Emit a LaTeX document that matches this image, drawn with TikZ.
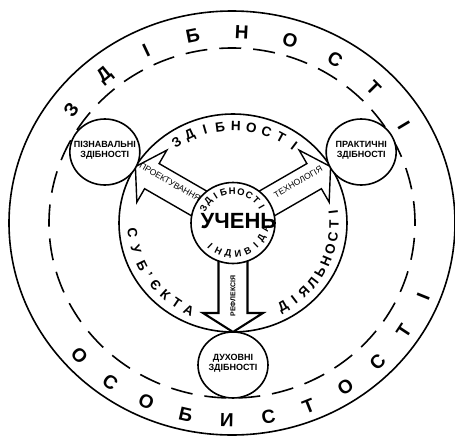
\documentclass[tikz,border=0pt]{standalone}
\usepackage{fontspec}
\setmainfont{Liberation Sans}
\usetikzlibrary{calc}

\tikzset{
  ring/.style={line width=1.6pt},
  dashring/.style={line width=1.6pt, dash pattern=on 22pt off 12pt},
  blockarrow/.style={fill=white, line join=miter},
  outerletter/.style={font=\bfseries\fontsize{19}{19}\selectfont, inner sep=0pt},
  midletter/.style={font=\bfseries\fontsize{13.5}{13.5}\selectfont, inner sep=0pt},
  innerletter/.style={font=\bfseries\fontsize{9.5}{9.5}\selectfont, inner sep=0pt},
  abilitytext/.style={font=\bfseries\fontsize{9}{10}\selectfont, align=center, inner sep=0pt},
  arrowlabel/.style={font=\fontsize{8.5}{8.5}\selectfont, inner sep=0pt},
}

\begin{document}
\begin{tikzpicture}[x=1pt, y=1pt]

    % --- Configuration ---
    \def\rSmallX{35} % small circles
    \def\rSmallY{33}

    \useasboundingbox (-232,-214) rectangle (223,223);
    \coordinate (ctr) at (1,0);

    % --- Rings ---
    \draw[ring] (0,0) ellipse (223 and 212);
    \draw[dashring] (0,0) ellipse (183 and 175);
    \draw[ring] (ctr) ellipse (114 and 109);

    % --- Block arrows ---
    \foreach \ang/\len/\lw in {150/112.7/1.4, 30/112.7/1.4, 270/109/2.1} {
      \begin{scope}[shift={(ctr)}, rotate=\ang]
        \draw[blockarrow, line width=\lw pt] (36,-14.5) -- ({\len-19},-14.5) -- ({\len-19},-30)
          -- (\len,0) -- ({\len-19},30) -- ({\len-19},14.5) -- (36,14.5);
      \end{scope}
    }

    % --- Small circles ---
    \path (ctr) ++(150:148 and 142) coordinate (pizn);
    \path (ctr) ++(30:148 and 142) coordinate (prakt);
    \path (ctr) ++(270:148 and 142) coordinate (dukh);
    \foreach \c in {pizn, prakt, dukh}
      \draw[ring, fill=white] (\c) ellipse [x radius=\rSmallX, y radius=\rSmallY];
    \node[abilitytext] (piznT) at ($(pizn)+(0,2)$) {ПІЗНАВАЛЬНІ\\ЗДІБНОСТІ};
    \node[abilitytext] (praktT) at ($(prakt)+(0,2)$) {ПРАКТИЧНІ\\ЗДІБНОСТІ};
    \node[abilitytext] (dukhT) at ($(dukh)+(0,2)$) {ДУХОВНІ\\ЗДІБНОСТІ};

    % --- Pupil circle ---
    \draw[ring, fill=white] (ctr) ellipse (42 and 40.5);
    \node[font=\bfseries\fontsize{22}{22}\selectfont, inner sep=0pt] (uchen) at ($(ctr)+(5.5,1.5)$) {УЧЕНЬ};

    % --- Arrow labels ---
    \node[arrowlabel, rotate=-30] (proj) at ($(ctr)+(150:75)+(60:4)$) {ПРОЕКТУВАННЯ};
    \node[arrowlabel, rotate=30] (tekh) at ($(ctr)+(30:77)+(120:3)$) {ТЕХНОЛОГІЯ};
    \node[arrowlabel, font=\bfseries\fontsize{7}{7}\selectfont, rotate=90] (refl) at ($(ctr)+(270:73)$) {РЕФЛЕКСІЯ};

    % --- Outer ring text ---
    \foreach \l [count=\i from 0] in {З,Д,І,Б,Н,О,С,Т,І}
      \path (0,0) ++({143.6-14.1*\i}:200 and 191) node[outerletter, rotate={53.6-14.1*\i}] (ot\i) {\l};
    \foreach \l [count=\i from 0] in {О,С,О,Б,И,С,Т,О,С,Т,І}
      \path (0,0) ++({222.2+11.6*\i}:206 and 197) node[outerletter, rotate={312.2+11.6*\i}] (ob\i) {\l};

    % --- Middle ring text ---
    \foreach \l [count=\i from 0] in {З,Д,І,Б,Н,О,С,Т,І}
      \path (ctr) ++({124-8.9*\i}:101 and 97) node[midletter, rotate={34-8.9*\i}] (mt\i) {\l};
    \foreach \l/\a [count=\i from 0] in {С/186, У/196, Б/206, ’/213, Є/220, К/228, Т/236, А/244}
      \path (ctr) ++(\a:101 and 97) node[midletter, rotate={\a+90}] (ml\i) {\l};
    \foreach \l [count=\i from 0] in {Д,І,Я,Л,Ь,Н,О,С,Т,І}
      \path (ctr) ++({300+7.4*\i}:101 and 97) node[midletter, rotate={30+7.4*\i}] (mr\i) {\l};

    % --- Inner ring text ---
    \foreach \l [count=\i from 0] in {З,Д,І,Б,Н,О,С,Т,І}
      \path (ctr) ++({153-15.4*\i}:33 and 31.5) node[innerletter, rotate={63-15.4*\i}] (it\i) {\l};
    \foreach \l [count=\i from 0] in {І,Н,Д,И,В,І,Д,А}
      \path (ctr) ++({226+17.6*\i}:33 and 31.5) node[innerletter, rotate={316+17.6*\i}] (ib\i) {\l};

\end{tikzpicture}
\end{document}
